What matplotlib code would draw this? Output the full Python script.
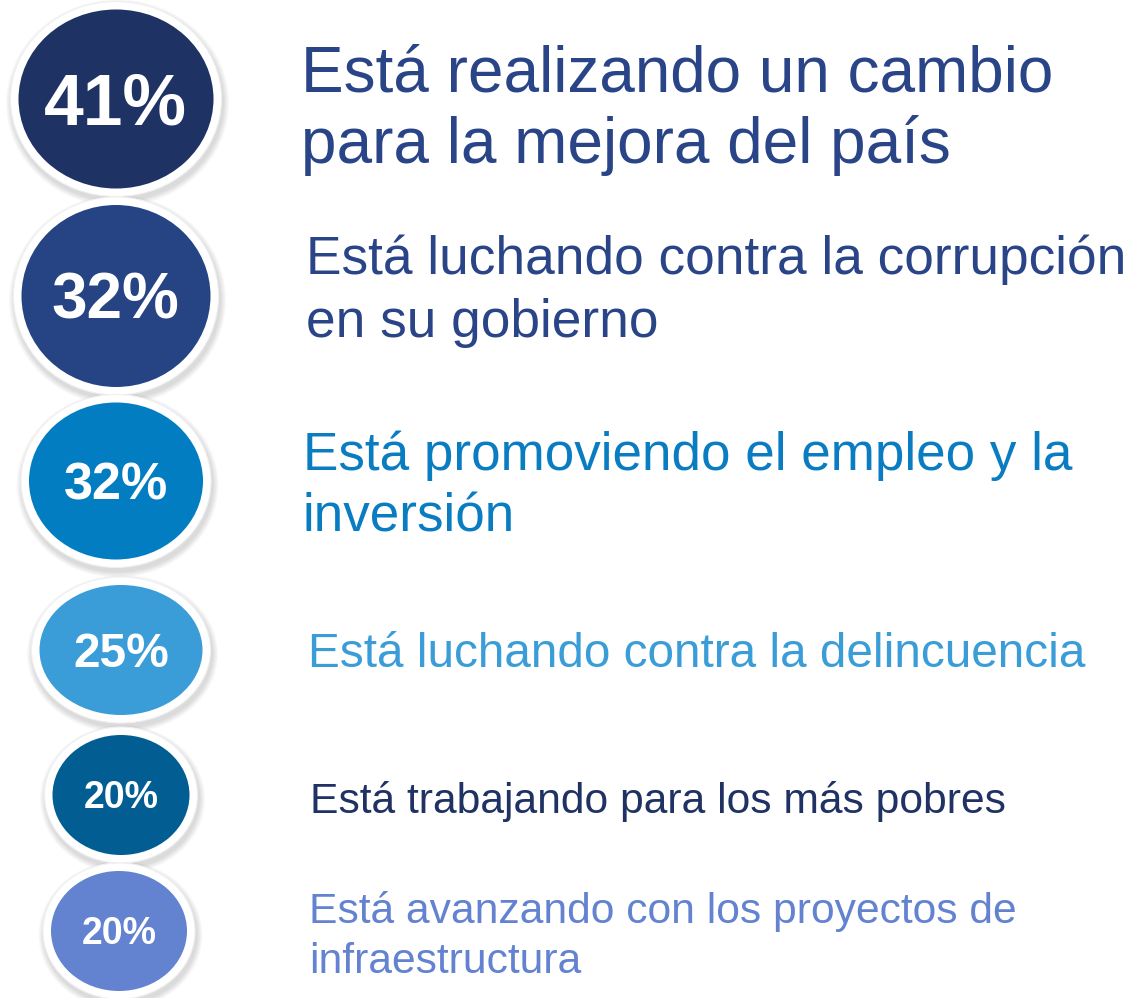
import matplotlib
matplotlib.use("Agg")
import matplotlib.pyplot as plt
from matplotlib.patches import Ellipse

# ---- data ----
percentages = [41, 32, 32, 25, 20, 20]
statements = [
    ["Está realizando un cambio", "para la mejora del país"],
    ["Está luchando contra la corrupción", "en su gobierno"],
    ["Está promoviendo el empleo y la", "inversión"],
    ["Está luchando contra la delincuencia"],
    ["Está trabajando para los más pobres"],
    ["Está avanzando con los proyectos de", "infraestructura"],
]
circle_colors = ["#1F3264", "#264383", "#037DC2", "#3A9DD8", "#015D92", "#6382D0"]
text_colors = ["#2A4488", "#2A4488", "#0A7CC1", "#3A9DD8", "#1F3263", "#6382D0"]

# ---- layout (pixels, figure 1132x998) ----
W, H = 1132, 998
circle_cx = [116, 116, 116, 121, 121, 119]
circle_cy = [99, 296, 481, 650, 795, 931]
circle_w = [195, 189, 174, 163, 137, 136]
circle_h = [179, 182, 157, 130, 120, 120]
pct_size = [51.5, 46, 37.5, 34.5, 27, 27]
pct_dx = [-1, -1, 0, 0, 0, 0]
text_x = [301, 306, 303, 308, 310, 309]
text_size = [46, 38.3, 38.2, 34.4, 30.7, 30.7]
text_baselines = [[91, 163], [274, 337], [470, 532], [667], [813], [923, 973]]
border = 8

fig = plt.figure(figsize=(W / 100, H / 100), dpi=100)
ax = fig.add_axes([0, 0, 1, 1])
ax.set_xlim(0, W)
ax.set_ylim(H, 0)
ax.axis("off")

font = "Liberation Sans"

for i, val in enumerate(percentages):
    cx, cy, w, h = circle_cx[i], circle_cy[i], circle_w[i], circle_h[i]
    ow, oh = w + 2 * border, h + 2 * border
    # soft shadow
    for k in range(6, 0, -1):
        ax.add_patch(Ellipse((cx + 1.5, cy + 4), ow + 2 * k, oh + 2 * k,
                             facecolor="#000000", edgecolor="none",
                             alpha=0.025, zorder=1))
    # white ring
    ax.add_patch(Ellipse((cx, cy), ow, oh, facecolor="white",
                         edgecolor="#F0F0F0", lw=0.8, zorder=2))
    # coloured disc
    ax.add_patch(Ellipse((cx, cy), w, h, facecolor=circle_colors[i],
                         edgecolor="none", zorder=3))
    # percentage label
    fs_px = pct_size[i] * 100 / 72
    ax.text(cx + pct_dx[i], cy + 0.358 * fs_px, f"{val}%", color="white",
            fontsize=pct_size[i], fontweight="bold", family=font,
            ha="center", va="baseline", zorder=4)
    # statement lines
    for line, by in zip(statements[i], text_baselines[i]):
        ax.text(text_x[i], by, line, color=text_colors[i],
                fontsize=text_size[i], family=font,
                ha="left", va="baseline", zorder=4)

fig.savefig("out.png", dpi=100, facecolor="white")
